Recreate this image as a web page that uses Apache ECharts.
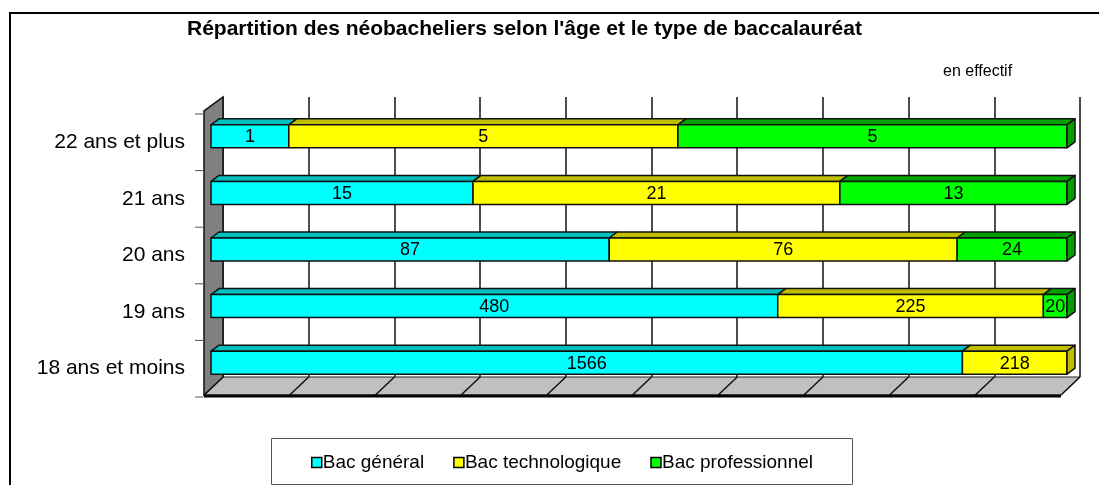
<!DOCTYPE html>
<html><head><meta charset="utf-8">
<script src="https://cdn.jsdelivr.net/npm/echarts@6/dist/echarts.min.js"></script>
<style>html,body{margin:0;padding:0;background:#fff}#c{width:1099px;height:485px}</style>
</head><body><div id="c"></div>
<script>
// ---- data ----
const categories = ['18 ans et moins', '19 ans', '20 ans', '21 ans', '22 ans et plus'];
const seriesNames = ['Bac général', 'Bac technologique', 'Bac professionnel'];
const bacGeneral = [1566, 480, 87, 15, 1];
const bacTechno = [218, 225, 76, 21, 5];
const bacPro = [0, 20, 24, 13, 5];
const pctTicks = [0, 10, 20, 30, 40, 50, 60, 70, 80, 90, 100];

// ---- styles ----
const FONT = '"Liberation Sans", Arial, sans-serif';
const frontColors = ['#00FFFF', '#FFFF00', '#00FF00'];
const darkColors = ['#00BFBF', '#BFBF00', '#00A000'];
const DEPTH = [8, -6];      // bar 3D offset
const WALL = [-19, 18];    // back plane -> front plane offset

const counts = [bacGeneral, bacTechno, bacPro];
const totals = categories.map((_, i) => counts.reduce((s, a) => s + a[i], 0));

function buildSeriesData(si) {
  return categories.map((_, ci) => {
    let start = 0;
    for (let k = 0; k < si; k++) start += counts[k][ci] / totals[ci] * 100;
    const pct = counts[si][ci] / totals[ci] * 100;
    let lastIdx = 0;
    for (let k = 0; k < counts.length; k++) if (counts[k][ci] > 0) lastIdx = k;
    return [pct, start, ci, counts[si][ci], lastIdx === si ? 1 : 0];
  });
}

function barRender(si) {
  return function (params, api) {
    const pct = api.value(0), start = api.value(1), cat = api.value(2), cnt = api.value(3), last = api.value(4);
    if (cnt <= 0) return;
    const a = api.coord([start, cat]);
    const b = api.coord([start + pct, cat]);
    const band = api.size([0, 1])[1];
    const h = band * 0.407;
    const x0 = a[0], x1 = b[0], y0 = a[1] - h / 2, y1 = a[1] + h / 2;
    const dx = DEPTH[0], dy = DEPTH[1];
    const line = { stroke: '#111', lineWidth: 1.5, lineJoin: 'round' };
    const children = [
      { type: 'polygon', shape: { points: [[x0, y0], [x0 + dx, y0 + dy], [x1 + dx, y0 + dy], [x1, y0]] },
        style: Object.assign({ fill: darkColors[si] }, line) },
      { type: 'rect', shape: { x: x0, y: y0, width: x1 - x0, height: h },
        style: Object.assign({ fill: frontColors[si] }, line) }
    ];
    if (last) {
      children.push({ type: 'polygon', shape: { points: [[x1, y0], [x1 + dx, y0 + dy], [x1 + dx, y1 + dy], [x1, y1]] },
        style: Object.assign({ fill: darkColors[si] }, line) });
    }
    children.push({ type: 'text', style: { text: String(cnt), x: (x0 + x1) / 2, y: (y0 + y1) / 2 + 1,
      align: 'center', verticalAlign: 'middle', fontSize: 18, fontFamily: FONT, fill: '#000' } });
    return { type: 'group', children: children };
  };
}

function decoRender(params, api) {
  const bt = api.coord([0, 1]);
  const bb = api.coord([0, 0]);
  const br = api.coord([100, 0]);
  const W = WALL;
  const children = [];
  // floor
  children.push({ type: 'polygon', shape: { points: [[bb[0], bb[1]], [br[0], br[1]], [br[0] + W[0], br[1] + W[1]], [bb[0] + W[0], bb[1] + W[1]]] },
    style: { fill: '#C0C0C0', stroke: '#222', lineWidth: 1 } });
  pctTicks.forEach(t => {
    const p = api.coord([t, 0]);
    children.push({ type: 'line', shape: { x1: p[0], y1: p[1], x2: p[0] + W[0], y2: p[1] + W[1] },
      style: { stroke: '#111', lineWidth: 1.5 } });
  });
  children.push({ type: 'line', shape: { x1: bb[0] + W[0], y1: bb[1] + W[1] + 1, x2: br[0] + W[0], y2: br[1] + W[1] + 1 },
    style: { stroke: '#000', lineWidth: 3 } });
  // left wall
  children.push({ type: 'polygon', shape: { points: [[bt[0], bt[1]], [bb[0], bb[1]], [bb[0] + W[0], bb[1] + W[1]], [bt[0] + W[0], bt[1] + W[1] - 4]] },
    style: { fill: '#808080', stroke: '#111', lineWidth: 1.5 } });
  return { type: 'group', children: children };
}

function tickRender(params, api) {
  const ci = api.value(0);
  const c = api.coord([0, ci]);
  const band = api.size([0, 1])[1];
  const children = [];
  const ys = [c[1] + band / 2];
  if (ci === categories.length - 1) ys.push(c[1] - band / 2);
  ys.forEach(y => children.push({ type: 'line', shape: { x1: 195, y1: y + 6, x2: 203, y2: y + 6 },
    style: { stroke: '#555', lineWidth: 1 } }));
  return { type: 'group', children: children };
}

const chart = echarts.init(document.getElementById('c'), null, { renderer: 'canvas' });
const series = seriesNames.map((name, si) => ({
  name: name, type: 'custom', xAxisIndex: 0, yAxisIndex: 0, z: 10,
  itemStyle: { color: frontColors[si] },
  encode: { x: 1, y: 2 },
  renderItem: barRender(si),
  data: buildSeriesData(si)
}));
series.push({ name: 'deco', type: 'custom', xAxisIndex: 1, yAxisIndex: 1, z: 3, silent: true,
  renderItem: decoRender, data: [[0, 0]], encode: { x: 0, y: 1 } });
series.push({ name: 'ticks', type: 'custom', xAxisIndex: 0, yAxisIndex: 0, z: 4, silent: true,
  renderItem: tickRender, data: categories.map((_, i) => [i]), encode: { y: 0 } });

chart.setOption({
  animation: false,
  backgroundColor: '#fff',
  graphic: [
    { type: 'rect', shape: { x: 10, y: 13, width: 1200, height: 600 }, style: { fill: 'none', stroke: '#000', lineWidth: 2 }, z: 0 },
    { type: 'rect', shape: { x: 271.5, y: 438.5, width: 581, height: 46 }, style: { fill: '#fff', stroke: '#555', lineWidth: 1 }, z: 1 },
    { type: 'text', style: { text: "Répartition des néobacheliers selon l'âge et le type de baccalauréat", x: 187, y: 29,
      verticalAlign: 'middle', fontSize: 21, fontWeight: 'bold', fontFamily: FONT, fill: '#000' }, z: 5 },
    { type: 'text', style: { text: 'en effectif', x: 943, y: 72, verticalAlign: 'middle', fontSize: 16, fontFamily: FONT, fill: '#000' }, z: 5 }
  ],
  legend: {
    data: seriesNames, left: 306, top: 448, icon: 'rect', itemWidth: 10, itemHeight: 10, itemGap: 29,
    itemStyle: { borderColor: '#000', borderWidth: 1.5 },
    textStyle: { fontSize: 19, fontFamily: FONT, color: '#000', padding: [0, 0, 0, -4] },
    selectedMode: false, z: 6
  },
  grid: [
    { left: 211, right: 32, top: 108, bottom: 94 },
    { left: 223, right: 19, top: 97, bottom: 108 }
  ],
  xAxis: [
    { type: 'value', gridIndex: 0, min: 0, max: 100, interval: 10, show: false },
    { type: 'value', gridIndex: 1, min: 0, max: 100, interval: 10,
      axisLine: { show: false }, axisTick: { show: false }, axisLabel: { show: false },
      splitLine: { show: true, lineStyle: { color: '#111', width: 1.5 } } }
  ],
  yAxis: [
    { type: 'category', gridIndex: 0, data: categories,
      axisLine: { show: false }, axisTick: { show: false }, splitLine: { show: false },
      axisLabel: { margin: 26, formatter: '{a|{value}}',
        rich: { a: { fontSize: 21, fontFamily: FONT, color: '#000', padding: [12, 0, 0, 0] } } } },
    { type: 'value', gridIndex: 1, min: 0, max: 1, show: false, splitLine: { show: false } }
  ],
  series: series
});
</script>
</body></html>
